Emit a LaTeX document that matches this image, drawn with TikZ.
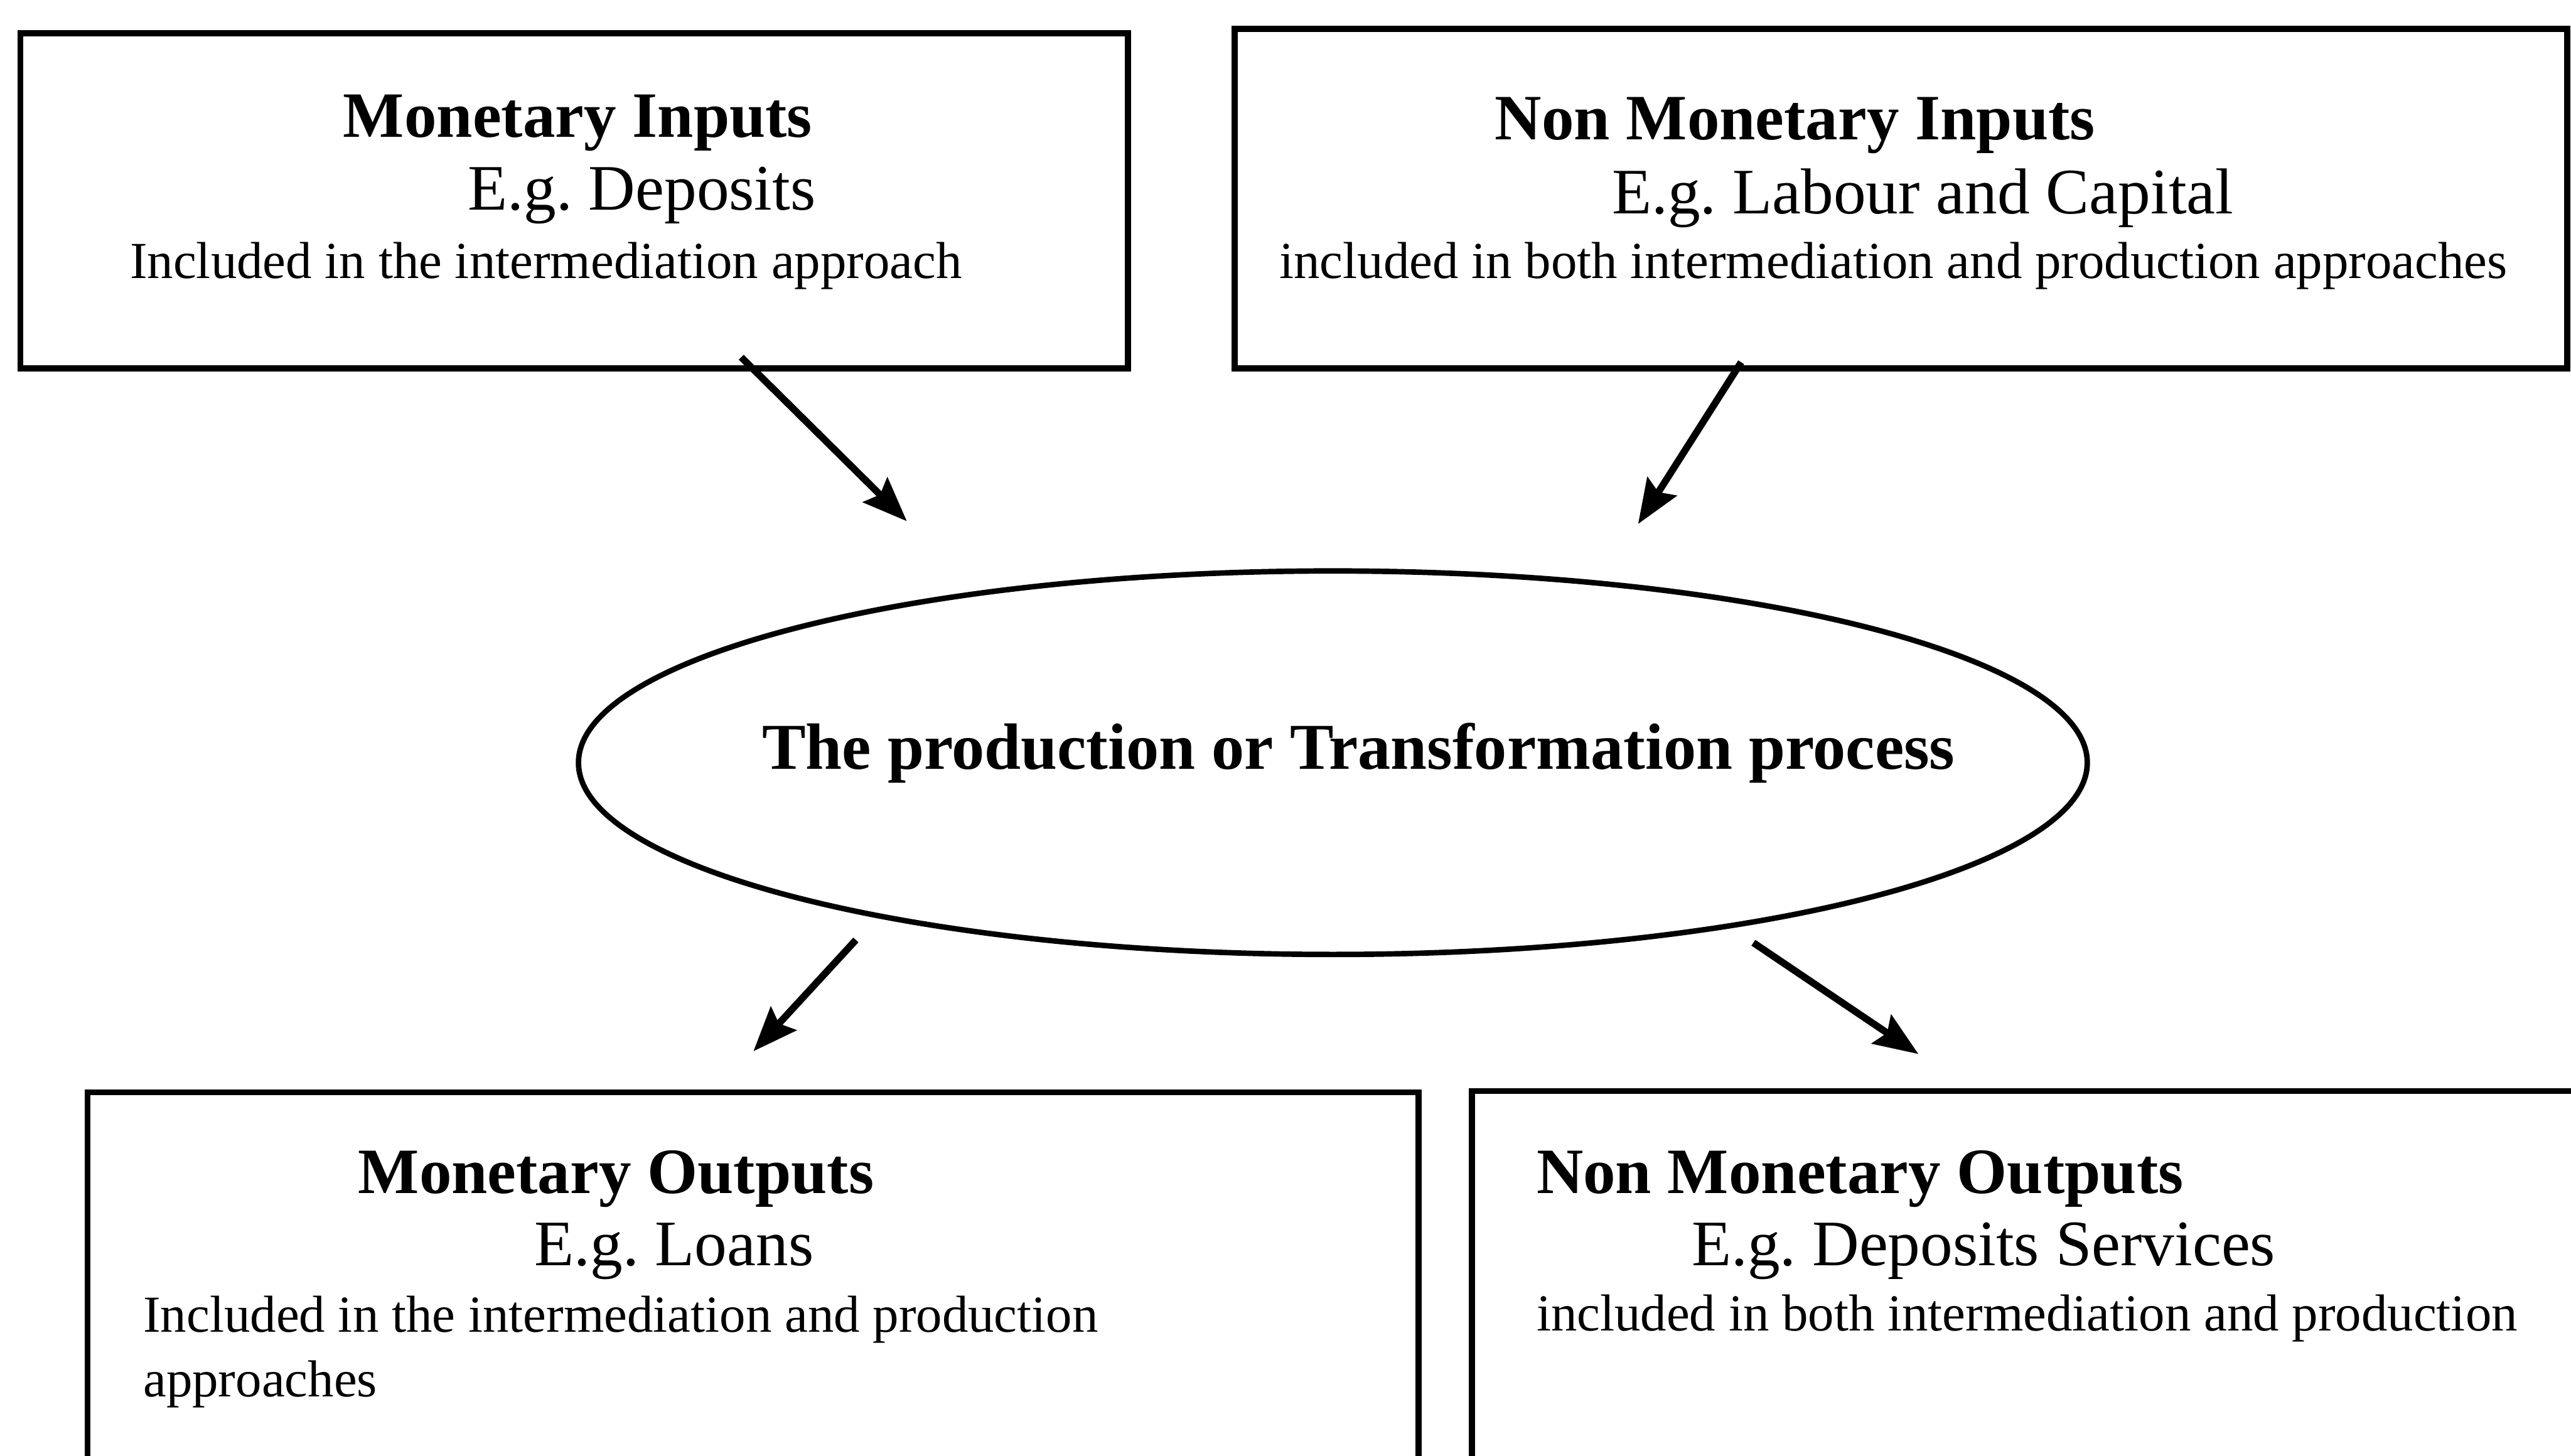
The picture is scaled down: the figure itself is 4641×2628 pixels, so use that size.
\documentclass[tikz,border=0pt]{standalone}
\usepackage{fontspec}
\setmainfont{Liberation Serif}
\usetikzlibrary{arrows.meta,shapes.geometric,fit}
\frenchspacing
\begin{document}
\begin{tikzpicture}[x=0.01cm,y=-0.01cm,
  panel/.style={draw=black,line width=3.1pt,inner sep=0pt,outer sep=0pt},
  head/.style={font=\fontsize{33.2}{40}\selectfont\bfseries,anchor=base west,inner sep=0pt},
  example/.style={font=\fontsize{33.3}{40}\selectfont,anchor=base west,inner sep=0pt},
  note/.style={font=\fontsize{26.7}{32}\selectfont,anchor=base west,inner sep=0pt},
  flow/.style={line width=3.6pt,-{Stealth[length=0.8cm,width=0.62cm,inset=0.12cm]}}]
\useasboundingbox (0,0) rectangle (4641,2628);
\fill[white] (0,0) rectangle (4641,2628);
\clip (0,0) rectangle (4641,2628);

% input panels
\node[panel,fit={(37,60) (2036,665)}] (in1) {};
\node[panel,fit={(2229,52) (4634,665)}] (in2) {};
% output panels (running past the lower and right edges)
\node[panel,fit={(158,1972) (2561,2720)}] (out1) {};
\node[panel,fit={(2657,1970) (4760,2720)}] (out2) {};

% central process
\node[draw=black,line width=2.8pt,ellipse,inner sep=0pt,
      minimum width=27.22cm,minimum height=6.92cm] (proc) at (2406,1377) {};
\node[font=\fontsize{33.6}{40}\selectfont\bfseries,anchor=base west,inner sep=0pt]
  (ptext) at (1375,1388) {The production or Transformation process};

% texts of the input panels
\node[head]    (t1a) at (619,248)  {Monetary Inputs};
\node[example] (t1b) at (844,379)  {E.g. Deposits};
\node[note]    (t1c) at (234,502)  {Included in the intermediation approach};
\node[head]    (t2a) at (2698,252) {Non Monetary Inputs};
\node[example] (t2b) at (2909,386) {E.g. Labour and Capital};
\node[note]    (t2c) at (2309,502) {included in both intermediation and production approaches};

% texts of the output panels
\node[head]    (t3a) at (646,2154)  {Monetary Outputs};
\node[example] (t3b) at (964,2285)  {E.g. Loans};
\node[note]    (t3c) at (258,2405)  {Included in the intermediation and production};
\node[note]    (t3d) at (258,2522)  {approaches};
\node[head]    (t4a) at (2773,2154) {Non Monetary Outputs};
\node[example] (t4b) at (3053,2285) {E.g. Deposits Services};
\node[note]    (t4c) at (2773,2403) {included in both intermediation and production};

% arrow end points
\coordinate (a1s) at (1338,645);  \coordinate (a1e) at (1637,941);
\coordinate (a2s) at (3143,654);  \coordinate (a2e) at (2957,946);
\coordinate (a3s) at (1545,1697); \coordinate (a3e) at (1360,1898);
\coordinate (a4s) at (3165,1702); \coordinate (a4e) at (3463,1903);

\draw[flow] (a1s) -- (a1e);
\draw[flow] (a2s) -- (a2e);
\draw[flow] (a3s) -- (a3e);
\draw[flow] (a4s) -- (a4e);
\end{tikzpicture}
\end{document}
